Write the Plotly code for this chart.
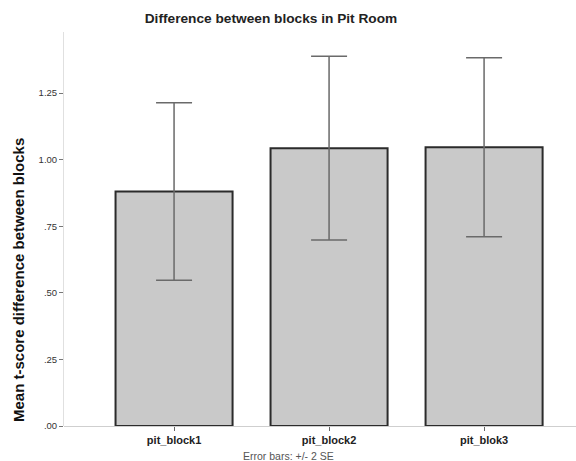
import plotly.graph_objects as go

categories = ["pit_block1", "pit_block2", "pit_blok3"]
means = [0.88, 1.043, 1.046]
err_2se = [0.333, 0.345, 0.336]
tick_vals = [0, 0.25, 0.5, 0.75, 1.0, 1.25]
tick_text = [".00", ".25", ".50", ".75", "1.00", "1.25"]

fig = go.Figure()
fig.add_trace(go.Bar(
    x=categories, y=means, width=0.755,
    marker=dict(color="#c9c9c9", line=dict(color="#2b2b2b", width=2)),
    error_y=dict(type="data", array=err_2se, visible=True,
                 color="#6a6a6a", thickness=1.5, width=18),
))

fig.update_layout(
    width=576, height=461,
    margin=dict(l=64, r=0, t=32, b=35),
    paper_bgcolor="white", plot_bgcolor="white",
    font=dict(family="Liberation Sans, Arial, sans-serif", color="#222"),
    showlegend=False,
    title=dict(text="<b>Difference between blocks in Pit Room</b>",
               x=271/576, xanchor="center", y=1-18/461, yanchor="middle",
               font=dict(size=13.7, color="#222")),
    xaxis=dict(range=[-0.71, 2.593], showline=False, showgrid=False,
               ticks="outside", ticklen=4, tickcolor="#666",
               tickfont=dict(size=11, color="#222"),
               tickprefix="<b>", ticksuffix="</b>", zeroline=False),
    yaxis=dict(range=[0, 1.479], showline=True, linecolor="#e0e0e0", linewidth=1,
               showgrid=False, zeroline=True, zerolinecolor="#cfcfcf", zerolinewidth=1,
               ticks="outside", ticklen=4, tickcolor="#777",
               tickvals=tick_vals, ticktext=tick_text,
               tickfont=dict(size=9.5, color="#333")),
)

fig.add_annotation(text="<b>Mean t-score difference between blocks</b>",
                   xref="paper", yref="paper", x=-46/512, y=(426-280)/394,
                   textangle=-90, showarrow=False,
                   font=dict(size=15, color="#111"), xanchor="center", yanchor="middle")
fig.add_annotation(text="Error bars: +/- 2 SE",
                   xref="paper", yref="paper", x=(288-64)/512, y=-(456-426)/394,
                   showarrow=False, font=dict(size=10.5, color="#555"),
                   xanchor="center", yanchor="middle")

fig.write_html("out.html")
